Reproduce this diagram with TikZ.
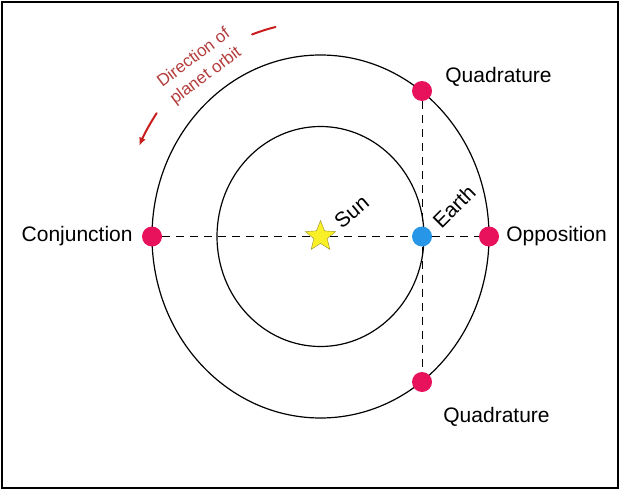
\documentclass[tikz,border=0pt]{standalone}
\usepackage{fontspec}
\setmainfont{Liberation Sans}
\usetikzlibrary{positioning, shapes.geometric, arrows.meta}

\definecolor{planetred}{RGB}{232,18,92}
\definecolor{earthblue}{RGB}{40,150,230}
\definecolor{sunyellow}{RGB}{250,240,40}
\definecolor{sunedge}{RGB}{150,140,40}
\definecolor{orbitred}{RGB}{200,30,30}
\definecolor{notered}{RGB}{180,60,60}

\begin{document}
\begin{tikzpicture}[x=1pt, y=1pt,
  planet/.style = {circle, fill=planetred, minimum size=20pt, inner sep=0pt},
  lbl/.style = {font=\fontsize{21}{24}\selectfont, inner sep=2pt},
  note/.style = {notered, rotate=37, inner sep=0pt, font=\fontsize{17}{18}\selectfont},
  sight/.style = {dashed, dash pattern=on 8pt off 6pt, line width=1pt},
  orbit/.style = {line width=1.2pt},
  dirline/.style = {orbitred, line width=2pt, line cap=round}]
\useasboundingbox (0,0) rectangle (620,491);
\draw[line width=1.5pt] (2,3) rectangle (618,489);
\coordinate (c) at (320.5,254.5);
% orbits
\draw[orbit] (c) ellipse [x radius=168.5, y radius=181.5];
\draw[orbit] (c) ellipse [x radius=103.5, y radius=110];
% direction of the orbit
\draw[dirline] (c) ++(103:200 and 215) arc [start angle=103, end angle=110, x radius=200, y radius=215];
\draw[dirline, -{Latex[length=8pt, width=7pt]}] (c) ++(145:200 and 215) arc [start angle=145, end angle=155, x radius=200, y radius=215];
\node[note] (dir1) at (193,434) {Direction of};
\node[note] (dir2) at (206,415) {planet orbit};
% bodies
\node[star, star points=5, star point ratio=2.3, fill=sunyellow, draw=sunedge, minimum size=32pt, inner sep=0pt] (sun) at (c) {};
\node[circle, fill=earthblue, minimum size=20pt, inner sep=0pt] (earth) at (422,254.5) {};
\node[planet] (conj) at (152,254.5) {};
\node[planet] (opp) at (489,254.5) {};
\node[planet] (qtop) at (422,400) {};
\node[planet] (qbot) at (422,109) {};
% lines of sight
\draw[sight] (conj) -- (sun);
\draw[sight] (sun) -- (earth);
\draw[sight] (earth) -- (opp);
\draw[sight] (qtop) -- (earth);
\draw[sight] (earth) -- (qbot);
% labels
\node[lbl, left=7pt of conj] (conjlbl) {Conjunction};
\node[lbl, right=5pt of opp] (opplbl) {Opposition};
\node[lbl, right=11pt of qtop, yshift=14pt] (qtoplbl) {Quadrature};
\node[lbl, right=9pt of qbot, yshift=-35pt] (qbotlbl) {Quadrature};
\node[lbl, rotate=40] (sunlbl) at ([shift={(31,25)}]sun.center) {Sun};
\node[lbl, rotate=45] (earthlbl) at ([shift={(32,30)}]earth.center) {Earth};
\end{tikzpicture}
\end{document}
